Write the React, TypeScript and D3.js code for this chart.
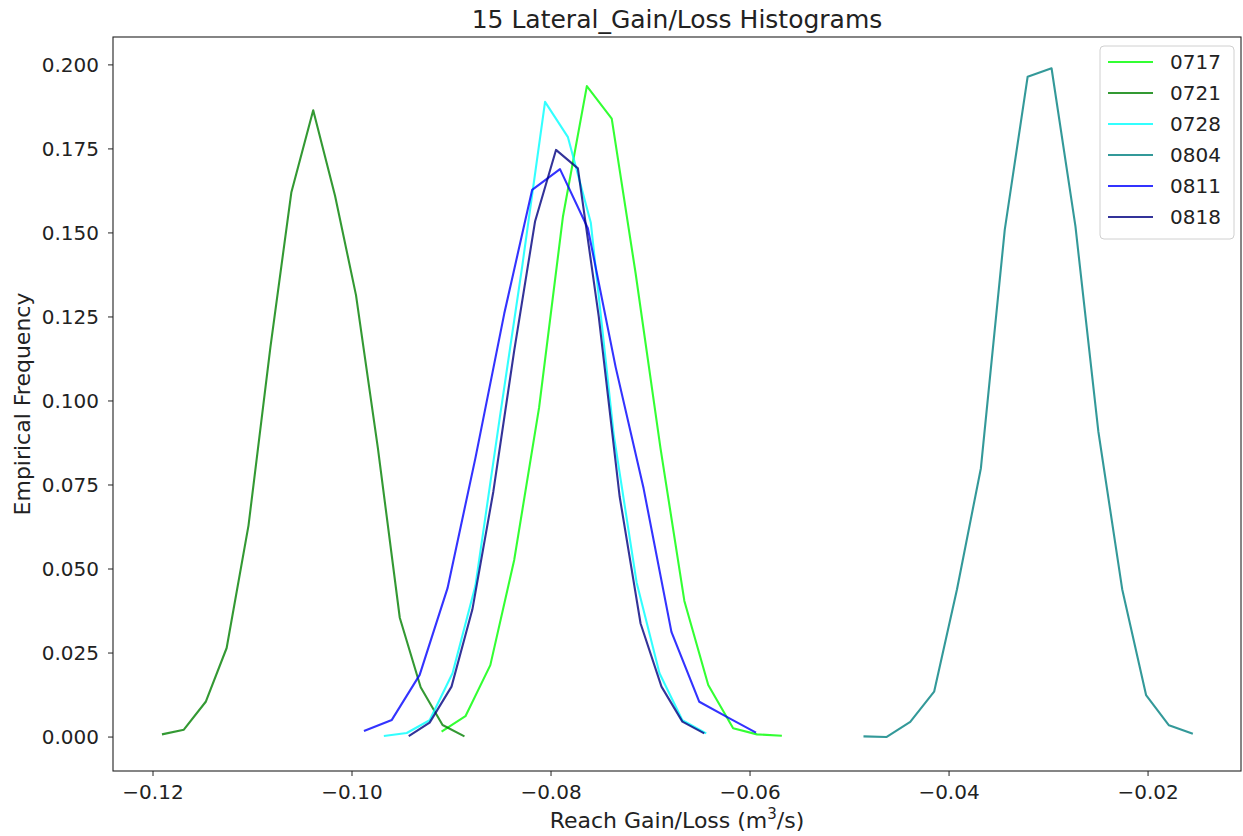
import React from "react";
import * as d3 from "d3";

const seriesNames = ["0717", "0721", "0728", "0804", "0811", "0818"];
const seriesColors = ["#00ff00", "#008000", "#00ffff", "#008080", "#0000ff", "#000080"];

const x0717 = [-0.0910, -0.0886, -0.0861, -0.0837, -0.0812, -0.0788, -0.0764, -0.0739, -0.0715, -0.0690, -0.0666, -0.0642, -0.0617, -0.0593, -0.0568];
const y0717 = [0.0016, 0.0062, 0.0214, 0.0527, 0.098, 0.1549, 0.1937, 0.184, 0.138, 0.086, 0.0405, 0.0155, 0.0026, 0.0008, 0.0004];

const x0721 = [-0.1191, -0.1169, -0.1147, -0.1126, -0.1104, -0.1082, -0.1061, -0.1039, -0.1017, -0.0996, -0.0974, -0.0952, -0.0931, -0.0909, -0.0887];
const y0721 = [0.0008, 0.0022, 0.0105, 0.0265, 0.063, 0.116, 0.162, 0.1865, 0.161, 0.1315, 0.086, 0.0355, 0.0148, 0.0036, 0.0002];

const x0728 = [-0.0968, -0.0945, -0.0922, -0.0899, -0.0876, -0.0852, -0.0829, -0.0806, -0.0783, -0.0760, -0.0737, -0.0714, -0.0691, -0.0668, -0.0644];
const y0728 = [0.0003, 0.0012, 0.005, 0.019, 0.045, 0.094, 0.14, 0.189, 0.1785, 0.153, 0.090, 0.046, 0.019, 0.005, 0.0011];

const x0804 = [-0.0486, -0.0463, -0.0439, -0.0415, -0.0392, -0.0368, -0.0344, -0.0321, -0.0297, -0.0273, -0.0250, -0.0226, -0.0202, -0.0179, -0.0155];
const y0804 = [0.0002, 0.0, 0.0045, 0.0135, 0.044, 0.080, 0.151, 0.1965, 0.199, 0.152, 0.091, 0.044, 0.0125, 0.0035, 0.0010];

const x0811 = [-0.0988, -0.0960, -0.0932, -0.0904, -0.0876, -0.0847, -0.0819, -0.0791, -0.0763, -0.0735, -0.0707, -0.0679, -0.0651, -0.0622, -0.0594];
const y0811 = [0.0018, 0.0051, 0.0185, 0.0443, 0.083, 0.126, 0.1628, 0.169, 0.1514, 0.110, 0.074, 0.0313, 0.0105, 0.0058, 0.0013];

const x0818 = [-0.0943, -0.0922, -0.0900, -0.0879, -0.0858, -0.0837, -0.0816, -0.0795, -0.0773, -0.0752, -0.0731, -0.0710, -0.0689, -0.0668, -0.0646];
const y0818 = [0.0003, 0.0043, 0.015, 0.038, 0.073, 0.115, 0.1535, 0.1747, 0.1692, 0.125, 0.0715, 0.0338, 0.015, 0.0046, 0.0011];

const xTicks = [-0.12, -0.10, -0.08, -0.06, -0.04, -0.02];
const yTicks = [0, 0.025, 0.05, 0.075, 0.1, 0.125, 0.15, 0.175, 0.2];
const xDomain = [-0.12402, -0.01066];
const yDomain = [-0.0101, 0.2083];

const titleText = "15 Lateral_Gain/Loss Histograms";
const yLabel = "Empirical Frequency";

const W = 1243;
const H = 836;
const left = 113;
const right = 1241;
const top = 37;
const bottom = 771;
const font = "DejaVu Sans, sans-serif";

export default function App() {
  const xs = [x0717, x0721, x0728, x0804, x0811, x0818];
  const ys = [y0717, y0721, y0728, y0804, y0811, y0818];
  const x = d3.scaleLinear().domain(xDomain).range([left, right]);
  const y = d3.scaleLinear().domain(yDomain).range([bottom, top]);
  const line = d3.line<[number, number]>().x((d) => x(d[0])).y((d) => y(d[1]));
  const fmtX = (v: number) => d3.format(".2f")(v).replace("-", "\u2212");
  const fmtY = d3.format(".3f");

  const legX = 1100, legY = 46, legW = 134, legH = 193, rowH = 31;

  return (
    <svg width={W} height={H} style={{ position: "absolute", left: 0, top: 0, background: "#fff" }} fontFamily={font}>
      <rect x={0} y={0} width={W} height={H} fill="#fff" />
      <text x={(left + right) / 2} y={28} textAnchor="middle" fontSize={25} fill="#222">{titleText}</text>
      <g>
        {seriesNames.map((n, i) => (
          <path key={n} d={line(xs[i].map((v, j) => [v, ys[i][j]] as [number, number])) || ""} fill="none" stroke={seriesColors[i]} strokeOpacity={0.8} strokeWidth={2.1} strokeLinejoin="round" />
        ))}
      </g>
      <rect x={left} y={top} width={right - left} height={bottom - top} fill="none" stroke="#222" strokeWidth={1.1} />
      {xTicks.map((t) => (
        <g key={t}>
          <line x1={x(t)} x2={x(t)} y1={bottom} y2={bottom + 5} stroke="#222" />
          <text x={x(t)} y={799} textAnchor="middle" fontSize={20} fill="#222">{fmtX(t)}</text>
        </g>
      ))}
      {yTicks.map((t) => (
        <g key={t}>
          <line x1={left - 5} x2={left} y1={y(t)} y2={y(t)} stroke="#222" />
          <text x={left - 14} y={y(t)} dy="0.36em" textAnchor="end" fontSize={20} fill="#222">{fmtY(t)}</text>
        </g>
      ))}
      <text x={(left + right) / 2} y={828} textAnchor="middle" fontSize={22} fill="#222">
        Reach Gain/Loss (m<tspan fontSize={15} dy={-9}>3</tspan><tspan dy={9}>/s)</tspan>
      </text>
      <text transform={`translate(30,${(top + bottom) / 2}) rotate(-90)`} textAnchor="middle" fontSize={22} fill="#222">{yLabel}</text>
      <g>
        <rect x={legX} y={legY} width={legW} height={legH} rx={4} fill="#fff" fillOpacity={0.8} stroke="#d0d0d0" />
        {seriesNames.map((n, i) => (
          <g key={n}>
            <line x1={legX + 8} x2={legX + 53} y1={legY + 16 + i * rowH} y2={legY + 16 + i * rowH} stroke={seriesColors[i]} strokeOpacity={0.8} strokeWidth={2.1} />
            <text x={legX + 70} y={legY + 16 + i * rowH} dy="0.36em" fontSize={20} fill="#222">{n}</text>
          </g>
        ))}
      </g>
    </svg>
  );
}
